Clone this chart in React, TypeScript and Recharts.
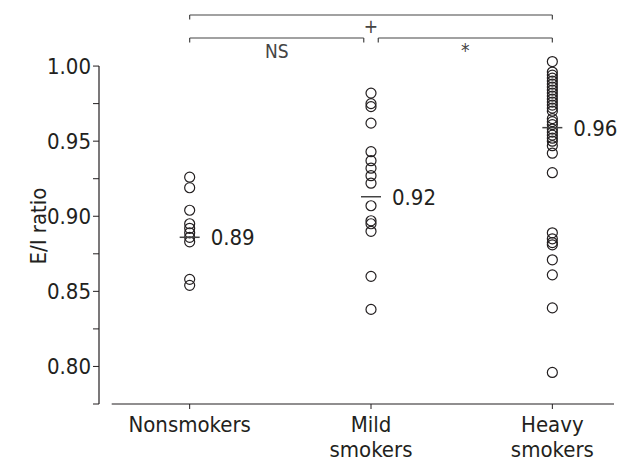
import React from 'react';
import { ScatterChart, Scatter, XAxis, YAxis, ReferenceLine } from 'recharts';

// groups on the x axis
const groups = ['Nonsmokers', 'Mild smokers', 'Heavy smokers'];

// E/I ratio of each subject
const nonsmokers = [0.926, 0.919, 0.904, 0.895, 0.892, 0.889, 0.886, 0.883, 0.858, 0.854];
const mildSmokers = [
  0.982, 0.975, 0.973, 0.962, 0.943, 0.937, 0.932, 0.927, 0.922, 0.907, 0.897, 0.895, 0.89, 0.86, 0.838,
];
const heavySmokers = [
  1.003, 0.996, 0.994, 0.992, 0.99, 0.988, 0.986, 0.984, 0.982, 0.98, 0.978, 0.976, 0.974, 0.972, 0.97,
  0.965, 0.963, 0.961, 0.958, 0.956, 0.954, 0.952, 0.95, 0.947, 0.942, 0.929,
  0.889, 0.885, 0.8825, 0.881, 0.871, 0.861, 0.839, 0.796,
];

// group means (horizontal marks) and their printed labels
const groupMeans = [0.886, 0.913, 0.959];
const meanLabels = ['0.89', '0.92', '0.96'];

const yTicks = [0.775, 0.8, 0.825, 0.85, 0.875, 0.9, 0.925, 0.95, 0.975, 1.0];

// significance brackets
const comparisons = [
  { from: 0, to: 2, label: '+' },
  { from: 0, to: 1, label: 'NS' },
  { from: 1, to: 2, label: '*' },
];

const FONT = "'DejaVu Sans Condensed', 'Liberation Sans Narrow', sans-serif";
const INK = '#231f20';
const FS = 22;

const toPoints = (values: number[], idx: number) => values.map((v) => ({ x: idx, y: v }));
const meanData = groupMeans.map((m, i) => ({ x: i, y: m, label: meanLabels[i] }));

const OpenCircle = (props: any) => (
  <circle cx={props.cx} cy={props.cy} r={5} fill="none" stroke={INK} strokeWidth={1.2} />
);

const MeanMark = (props: any) => {
  const { cx, cy, payload } = props;
  return (
    <g>
      <line x1={cx - 10} x2={cx + 10} y1={cy} y2={cy} stroke="#444" strokeWidth={1.5} />
      <text x={cx + 21} y={cy} dy="0.36em" fontSize={FS} fill={INK}>
        {payload.label}
      </text>
    </g>
  );
};

const CategoryTick = (props: any) => {
  const { x, y, payload } = props;
  const words = groups[payload.value].split(' ');
  return (
    <text x={x} y={y} textAnchor="middle" fontSize={FS} fill={INK}>
      {words.map((w, i) => (
        <tspan key={w} x={x} dy={i === 0 ? 21 : 25}>
          {w}
        </tspan>
      ))}
    </text>
  );
};

const fmtY = (v: number) => (Math.round(v * 1000) % 50 === 0 ? v.toFixed(2) : '');

export default function App() {
  const top = 1.034;
  const low = 1.0187;
  const drop = 0.003;
  return (
    <div style={{ fontFamily: FONT, background: '#fff', width: 624, height: 462 }}>
      <style>{'body{margin:0}'}</style>
      <ScatterChart width={624} height={462} margin={{ top: 6, right: 10, bottom: 0, left: 0 }}>
        <XAxis
          type="number"
          dataKey="x"
          domain={[-0.5, 2.34]}
          ticks={[0, 1, 2]}
          axisLine={false}
          tickLine={{ stroke: INK }}
          tickSize={5}
          tickMargin={2}
          height={58}
          tick={<CategoryTick />}
          interval={0}
        />
        <YAxis
          type="number"
          dataKey="y"
          domain={[0.775, 1.04]}
          ticks={yTicks}
          tickFormatter={fmtY}
          axisLine={false}
          tickLine={{ stroke: INK }}
          tickSize={6}
          tickMargin={2}
          width={99}
          interval={0}
          tick={{ fontSize: FS, fill: INK }}
          label={{
            content: () => (
              <text transform="translate(46,226) rotate(-90)" textAnchor="middle" fontSize={FS} fill={INK}>
                E/I ratio
              </text>
            ),
          }}
        />
        {/* axis lines, drawn separately so the x axis starts clear of the y axis */}
        <ReferenceLine
          segment={[{ x: -0.5, y: 0.775 }, { x: -0.5, y: 1.0 }]}
          stroke={INK}
          strokeWidth={1.2}
          ifOverflow="visible"
        />
        <ReferenceLine
          segment={[{ x: -0.43, y: 0.775 }, { x: 2.34, y: 0.775 }]}
          stroke={INK}
          strokeWidth={1.2}
          ifOverflow="visible"
        />
        {comparisons.map((c, i) => {
          const lvl = i === 0 ? top : low;
          const x1 = c.from + (i === 2 ? 0.04 : 0);
          const x2 = c.to - (i === 1 ? 0.04 : 0);
          const offset = c.label === '+' ? 4 : c.label === '*' ? 6 : 7;
          return (
            <React.Fragment key={c.label}>
              <ReferenceLine
                segment={[{ x: x1, y: lvl }, { x: x2, y: lvl }]}
                stroke="#444"
                strokeWidth={1.2}
                ifOverflow="visible"
                label={{ value: c.label, position: 'bottom', offset, fontSize: 19, fill: '#444' }}
              />
              <ReferenceLine
                segment={[{ x: x1, y: lvl }, { x: x1, y: lvl - drop }]}
                stroke="#444"
                strokeWidth={1.2}
                ifOverflow="visible"
              />
              <ReferenceLine
                segment={[{ x: x2, y: lvl }, { x: x2, y: lvl - drop }]}
                stroke="#444"
                strokeWidth={1.2}
                ifOverflow="visible"
              />
            </React.Fragment>
          );
        })}
        <Scatter data={toPoints(nonsmokers, 0)} shape={OpenCircle} isAnimationActive={false} />
        <Scatter data={toPoints(mildSmokers, 1)} shape={OpenCircle} isAnimationActive={false} />
        <Scatter data={toPoints(heavySmokers, 2)} shape={OpenCircle} isAnimationActive={false} />
        <Scatter data={meanData} shape={MeanMark} isAnimationActive={false} />
      </ScatterChart>
    </div>
  );
}
